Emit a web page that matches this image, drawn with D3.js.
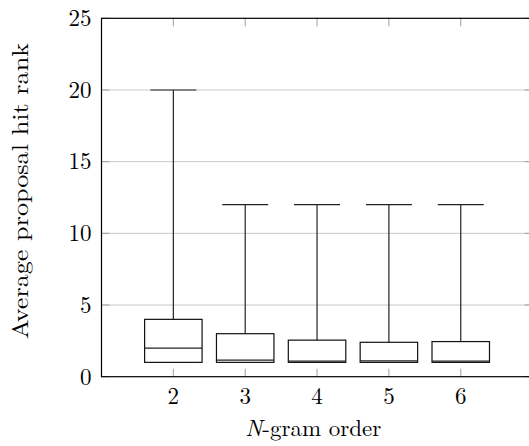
<!DOCTYPE html>
<html>
<head>
<meta charset="utf-8">
<script src="https://cdn.jsdelivr.net/npm/d3@7"></script>
<style>
  html, body { margin: 0; padding: 0; background: #fff; }
  svg { display: block; }
  text { font-family: "Latin Modern Roman", "CMU Serif", "Liberation Serif", serif; fill: #000; }
</style>
</head>
<body>
<svg id="chart" width="529" height="446"></svg>
<script>
// N-gram order on the x axis, one box per order
const categories = [2, 3, 4, 5, 6];
const lowerWhisker = [1, 1, 1, 1, 1];
const lowerQuartile = [1, 1, 1, 1, 1];
const median = [2, 1.15, 1.08, 1.1, 1.08];
const upperQuartile = [4, 3, 2.55, 2.4, 2.45];
const upperWhisker = [20, 12, 12, 12, 12];
const yTicks = [0, 5, 10, 15, 20, 25];

const svg = d3.select("#chart");
const plotLeft = 101.5, plotTop = 18.3, plotBottom = 376.7, step = 71.85;

const x = d3.scaleLinear().domain([1, 7]).range([plotLeft, plotLeft + 6 * step]);
const y = d3.scaleLinear().domain([0, 25]).range([plotBottom, plotTop]);

const boxHalf = 0.4, capHalf = 0.32;
const fontSize = 23;

// horizontal grid
svg.append("g").selectAll("line").data(yTicks.filter(t => t > 0 && t < 25)).join("line")
  .attr("x1", x(1)).attr("x2", x(7))
  .attr("y1", d => y(d)).attr("y2", d => y(d))
  .attr("stroke", "#c8c8c8").attr("stroke-width", 1);

// inward ticks (gray), left/right and bottom/top
const tickLen = 8;
const tickG = svg.append("g").attr("stroke", "#a0a0a0").attr("stroke-width", 1);
tickG.selectAll(".yl").data(yTicks).join("line")
  .attr("x1", x(1)).attr("x2", x(1) + tickLen)
  .attr("y1", d => y(d)).attr("y2", d => y(d));
tickG.selectAll(".yr").data(yTicks).join("line")
  .attr("x1", x(7)).attr("x2", x(7) - tickLen)
  .attr("y1", d => y(d)).attr("y2", d => y(d));
tickG.selectAll(".xb").data(categories).join("line")
  .attr("x1", d => x(d)).attr("x2", d => x(d))
  .attr("y1", y(0)).attr("y2", y(0) - tickLen);
tickG.selectAll(".xt").data(categories).join("line")
  .attr("x1", d => x(d)).attr("x2", d => x(d))
  .attr("y1", y(25)).attr("y2", y(25) + tickLen);

// boxes and whiskers
const data = categories.map((c, i) => ({
  c, lw: lowerWhisker[i], q1: lowerQuartile[i], med: median[i],
  q3: upperQuartile[i], uw: upperWhisker[i]
}));
const g = svg.append("g").selectAll("g").data(data).join("g");
g.append("line")
  .attr("x1", d => x(d.c)).attr("x2", d => x(d.c))
  .attr("y1", d => y(d.q3)).attr("y2", d => y(d.uw))
  .attr("stroke", "#222").attr("stroke-width", 1.2);
g.append("line")
  .attr("x1", d => x(d.c - capHalf)).attr("x2", d => x(d.c + capHalf))
  .attr("y1", d => y(d.uw)).attr("y2", d => y(d.uw))
  .attr("stroke", "#222").attr("stroke-width", 1.2);
g.append("line")
  .attr("x1", d => x(d.c)).attr("x2", d => x(d.c))
  .attr("y1", d => y(d.q1)).attr("y2", d => y(d.lw))
  .attr("stroke", "#222").attr("stroke-width", 1.2);
g.append("line")
  .attr("x1", d => x(d.c - capHalf)).attr("x2", d => x(d.c + capHalf))
  .attr("y1", d => y(d.lw)).attr("y2", d => y(d.lw))
  .attr("stroke", "#222").attr("stroke-width", 1.2);
g.append("rect")
  .attr("x", d => x(d.c - boxHalf)).attr("width", d => x(d.c + boxHalf) - x(d.c - boxHalf))
  .attr("y", d => y(d.q3)).attr("height", d => y(d.q1) - y(d.q3))
  .attr("fill", "#fff").attr("stroke", "#111").attr("stroke-width", 1.2);
g.append("line")
  .attr("x1", d => x(d.c - boxHalf)).attr("x2", d => x(d.c + boxHalf))
  .attr("y1", d => y(d.med)).attr("y2", d => y(d.med))
  .attr("stroke", "#222").attr("stroke-width", 1.2);

// axis frame
svg.append("rect")
  .attr("x", x(1)).attr("y", y(25))
  .attr("width", x(7) - x(1)).attr("height", y(0) - y(25))
  .attr("fill", "none").attr("stroke", "#000").attr("stroke-width", 1.2);

// tick labels
svg.append("g").selectAll("text").data(yTicks).join("text")
  .attr("x", x(1) - 10).attr("y", d => y(d)).attr("dy", "0.34em")
  .attr("text-anchor", "end").attr("font-size", fontSize)
  .text(d => d);
svg.append("g").selectAll("text").data(categories).join("text")
  .attr("x", d => x(d)).attr("y", 404)
  .attr("text-anchor", "middle").attr("font-size", fontSize)
  .text(d => d);

// axis titles
const xt = svg.append("text")
  .attr("x", (x(1) + 529) / 2 - 2).attr("y", 436)
  .attr("text-anchor", "middle").attr("font-size", fontSize);
xt.append("tspan").attr("font-style", "italic").text("N");
xt.append("tspan").text("-gram order");

svg.append("text")
  .attr("transform", "translate(28,191) rotate(-90)")
  .attr("text-anchor", "middle").attr("font-size", fontSize)
  .attr("textLength", 296).attr("lengthAdjust", "spacingAndGlyphs")
  .text("Average proposal hit rank");
</script>
</body>
</html>
